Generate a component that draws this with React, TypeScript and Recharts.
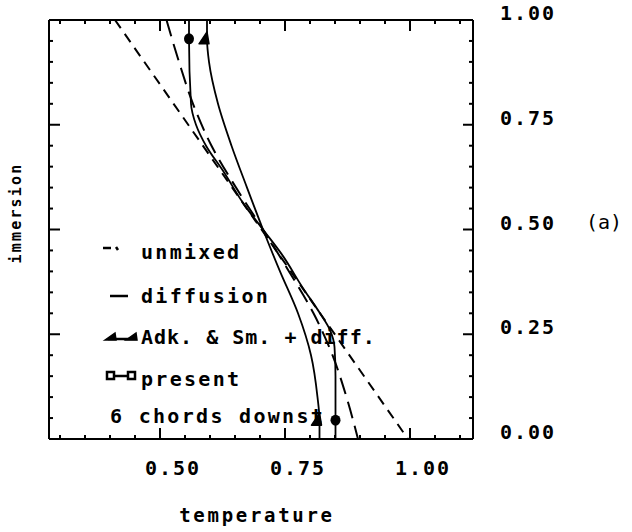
import React from 'react';
import { ComposedChart, Line, XAxis, YAxis, Legend } from 'recharts';

// axis ticks (every 0.05, labelled every 0.25)
const tempTicks = [0.3, 0.35, 0.4, 0.45, 0.5, 0.55, 0.6, 0.65, 0.7, 0.75, 0.8, 0.85, 0.9, 0.95, 1.0, 1.05, 1.1];
const tempMajor = [0.5, 0.75, 1.0];
const tempLabels = ['0.50', '0.75', '1.00'];
const immTicks = [0, 0.05, 0.1, 0.15, 0.2, 0.25, 0.3, 0.35, 0.4, 0.45, 0.5, 0.55, 0.6, 0.65, 0.7, 0.75, 0.8, 0.85, 0.9, 0.95, 1.0];
const immMajor = [0, 0.25, 0.5, 0.75, 1.0];
const immLabels = ['0.00', '0.25', '0.50', '0.75', '1.00'];

// unmixed
const unmixedT = [0.41, 0.996];
const unmixedI = [1.0, 0.0];

// diffusion
const diffusionT = [0.513, 0.538, 0.566, 0.603, 0.652, 0.706, 0.758, 0.807, 0.845, 0.873, 0.896];
const diffusionI = [1.0, 0.9, 0.8, 0.7, 0.6, 0.5, 0.4, 0.3, 0.2, 0.1, 0.0];

// Adk. & Sm. + diff.
const adkT = [0.594, 0.594, 0.598, 0.616, 0.643, 0.674, 0.706, 0.74, 0.776, 0.802, 0.815, 0.819, 0.819];
const adkI = [1.0, 0.955, 0.9, 0.8, 0.7, 0.6, 0.5, 0.4, 0.3, 0.2, 0.1, 0.045, 0.0];
const adkMarks = [0.955, 0.045];

// present
const presentT = [0.558, 0.558, 0.562, 0.572, 0.592, 0.626, 0.668, 0.706, 0.744, 0.786, 0.82, 0.84, 0.849, 0.851, 0.851, 0.851];
const presentI = [1.0, 0.955, 0.8, 0.75, 0.7, 0.64, 0.56, 0.5, 0.44, 0.36, 0.3, 0.26, 0.22, 0.15, 0.045, 0.0];
const presentMarks = [0.955, 0.045];

const legendNames = ['unmixed', 'diffusion', 'Adk. & Sm. + diff.', 'present', '6 chords downst'];

const zip = (ts: number[], is: number[]) => ts.map((t, k) => ({ t, i: is[k] }));

// plot frame in page pixels
const PL = 49;
const PT = 20;
const PR = 473;
const PB = 439;

const mono = '"DejaVu Sans Mono", monospace';
const tickFont = { fontFamily: mono, fontSize: 20, fontWeight: 700, letterSpacing: 2, fill: '#000' };

const BottomTick = (p: any) => {
  const k = tempMajor.indexOf(p.payload.value);
  return (
    <g>
      <line x1={p.x} x2={p.x} y1={p.y} y2={p.y - (k >= 0 ? 11 : 4)} stroke="#000" strokeWidth={2} />
      {k >= 0 && (
        <text x={p.x + 13} y={p.y + 29} textAnchor="middle" dominantBaseline="central" style={tickFont}>
          {tempLabels[k]}
        </text>
      )}
    </g>
  );
};

const TopTick = (p: any) => {
  const major = tempMajor.includes(p.payload.value);
  return <line x1={p.x} x2={p.x} y1={p.y} y2={p.y + (major ? 11 : 4)} stroke="#000" strokeWidth={2} />;
};

const LeftTick = (p: any) => {
  const major = immMajor.includes(p.payload.value) && p.payload.value > 0 && p.payload.value < 1;
  return <line x1={p.x} x2={p.x + (major ? 11 : 4)} y1={p.y} y2={p.y} stroke="#000" strokeWidth={2} />;
};

const RightTick = (p: any) => {
  const k = immMajor.indexOf(p.payload.value);
  const inner = k > 0 && k < immMajor.length - 1;
  return (
    <g>
      <line x1={p.x} x2={p.x - (inner ? 10 : 4)} y1={p.y} y2={p.y} stroke="#000" strokeWidth={2} />
      {k >= 0 && (
        <text x={p.x + 27} y={p.y - 7} textAnchor="start" dominantBaseline="central" style={tickFont}>
          {immLabels[k]}
        </text>
      )}
    </g>
  );
};

const tempTitle = () => (
  <text x={(PL + PR) / 2 - 4} y={515} textAnchor="middle" dominantBaseline="central"
    style={{ fontFamily: mono, fontSize: 19, fontWeight: 700, letterSpacing: 2.7, fill: '#000' }}>
    temperature
  </text>
);

const immTitle = () => (
  <text x={21} y={213} transform="rotate(-90 21 213)" textAnchor="middle"
    style={{ fontFamily: mono, fontSize: 15, fontWeight: 700, letterSpacing: 2.2, fill: '#000' }}>
    immersion
  </text>
);

const panelTag = () => (
  <text x={586} y={PT + (PB - PT) / 2 - 8} dominantBaseline="central"
    style={{ fontFamily: mono, fontSize: 20, fill: '#000' }}>
    (a)
  </text>
);

const markDot = (marks: number[], kind: 'circle' | 'wedge') => (p: any) => {
  const { cx, cy, payload, index } = p;
  if (!marks.includes(payload.i)) return <g key={index} />;
  if (kind === 'circle') return <ellipse key={index} cx={cx} cy={cy} rx={5} ry={5.5} fill="#000" />;
  return <path key={index} d={`M${cx - 8},${cy + 5} L${cx},${cy - 7} L${cx + 2},${cy + 5} Z`} fill="#000" stroke="#000" strokeWidth={1.5} strokeLinejoin="round" />;
};

const LegendBox = () => {
  const rowY = [252, 296, 337, 379, 416];
  const txt = { fontFamily: mono, fontSize: 20, fontWeight: 700, fill: '#000' };
  return (
    <svg width={632} height={532} style={{ position: 'absolute', left: 0, top: 0 }}>
      <line x1={103} x2={111} y1={rowY[0] - 4} y2={rowY[0] - 4} stroke="#000" strokeWidth={2.5} />
      <line x1={116} x2={118} y1={rowY[0] - 5} y2={rowY[0] - 2} stroke="#000" strokeWidth={2.5} />
      <text x={141} y={rowY[0]} dominantBaseline="central" style={{ ...txt, letterSpacing: 2.3 }}>{legendNames[0]}</text>

      <line x1={110} x2={128} y1={rowY[1]} y2={rowY[1]} stroke="#000" strokeWidth={2.5} />
      <text x={141} y={rowY[1]} dominantBaseline="central" style={{ ...txt, letterSpacing: 2.3 }}>{legendNames[1]}</text>

      <line x1={108} x2={137} y1={rowY[2] + 2} y2={rowY[2] + 2} stroke="#000" strokeWidth={2.5} />
      <path d={`M105,${rowY[2] + 3} L115,${rowY[2] - 4} L116,${rowY[2] + 3} Z`} fill="#000" stroke="#000" strokeWidth={1.5} />
      <path d={`M126,${rowY[2] + 3} L136,${rowY[2] - 4} L137,${rowY[2] + 3} Z`} fill="#000" stroke="#000" strokeWidth={1.5} />
      <text x={141} y={rowY[2]} dominantBaseline="central" style={{ ...txt, letterSpacing: 1 }}>{legendNames[2]}</text>

      <line x1={111} x2={131} y1={rowY[3] - 3} y2={rowY[3] - 3} stroke="#000" strokeWidth={2.5} />
      <rect x={107} y={rowY[3] - 7} width={7} height={7} fill="#fff" stroke="#000" strokeWidth={2.5} />
      <rect x={128} y={rowY[3] - 7} width={7} height={7} fill="#fff" stroke="#000" strokeWidth={2.5} />
      <text x={141} y={rowY[3]} dominantBaseline="central" style={{ ...txt, letterSpacing: 2.3 }}>{legendNames[3]}</text>

      <text x={110} y={rowY[4]} dominantBaseline="central" style={{ ...txt, letterSpacing: 2.3 }}>{legendNames[4]}</text>
    </svg>
  );
};

const axisLine = { stroke: '#000', strokeWidth: 2 };

export default function App() {
  return (
    <div style={{ position: 'fixed', left: 0, top: 0, width: 632, height: 532, background: '#fff' }}>
      <ComposedChart width={632} height={532} margin={{ top: PT - 1, right: 0, bottom: 0, left: PL - 1 }}>
        <XAxis xAxisId="b" orientation="bottom" type="number" dataKey="t" domain={[0.278, 1.126]} allowDataOverflow
          ticks={tempTicks} interval={0} height={532 - PB} tickSize={0} tickMargin={0} tickLine={false}
          axisLine={axisLine} tick={BottomTick} label={tempTitle} />
        <XAxis xAxisId="t" orientation="top" type="number" dataKey="t" domain={[0.278, 1.126]} allowDataOverflow
          ticks={tempTicks} interval={0} height={1} tickSize={0} tickMargin={0} tickLine={false}
          axisLine={axisLine} tick={TopTick} />
        <YAxis yAxisId="l" orientation="left" type="number" domain={[0, 1]} allowDataOverflow
          ticks={immTicks} interval={0} width={1} tickSize={0} tickMargin={0} tickLine={false}
          axisLine={axisLine} tick={LeftTick} label={immTitle} />
        <YAxis yAxisId="r" orientation="right" type="number" domain={[0, 1]} allowDataOverflow
          ticks={immTicks} interval={0} width={632 - PR} tickSize={0} tickMargin={0} tickLine={false}
          axisLine={axisLine} tick={RightTick} label={panelTag} />

        <Line xAxisId="b" yAxisId="r" data={zip(unmixedT, unmixedI)} dataKey="i" type="linear"
          stroke="#000" strokeWidth={2} strokeDasharray="10 7" dot={false} isAnimationActive={false} />
        <Line xAxisId="b" yAxisId="r" data={zip(diffusionT, diffusionI)} dataKey="i" type="monotoneY"
          stroke="#000" strokeWidth={2} strokeDasharray="17 8" dot={false} isAnimationActive={false} />
        <Line xAxisId="b" yAxisId="r" data={zip(adkT, adkI)} dataKey="i" type="monotoneY"
          stroke="#000" strokeWidth={1.8} dot={markDot(adkMarks, 'wedge')} isAnimationActive={false} />
        <Line xAxisId="b" yAxisId="r" data={zip(presentT, presentI)} dataKey="i" type="monotoneY"
          stroke="#000" strokeWidth={1.8} dot={markDot(presentMarks, 'circle')} isAnimationActive={false} />

        <Legend content={LegendBox} layout="horizontal" verticalAlign="middle" align="center"
          wrapperStyle={{ position: 'absolute', left: 0, top: 0, width: 632, height: 532, pointerEvents: 'none' }} />
      </ComposedChart>
    </div>
  );
}
